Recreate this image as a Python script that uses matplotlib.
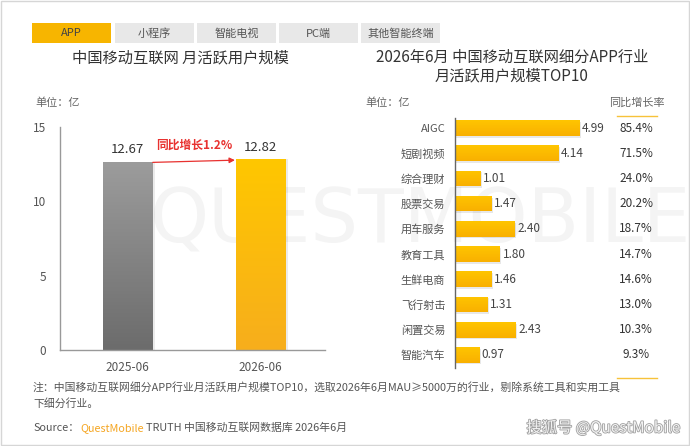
import numpy as np
import matplotlib
matplotlib.use("Agg")
import matplotlib.pyplot as plt
import matplotlib.patheffects as pe
from matplotlib.patches import Rectangle
from matplotlib.colors import LinearSegmentedColormap

plt.rcParams['font.family'] = ['Noto Sans CJK SC', 'DejaVu Sans']

# 데이터
tabs = ["APP", "小程序", "智能电视", "PC端", "其他智能终端"]
months = ["2025-06", "2026-06"]
mau_total = [12.67, 12.82]
growth_total = "同比增长1.2%"

industries = ["AIGC", "短剧视频", "综合理财", "股票交易", "用车服务",
              "教育工具", "生鲜电商", "飞行射击", "闲置交易", "智能汽车"]
industry_mau = [4.99, 4.14, 1.01, 1.47, 2.40, 1.80, 1.46, 1.31, 2.43, 0.97]
industry_yoy = [85.4, 71.5, 24.0, 20.2, 18.7, 14.7, 14.6, 13.0, 10.3, 9.3]

W, H = 690, 446
fig = plt.figure(figsize=(W / 100, H / 100), dpi=100)
fig.patch.set_facecolor("white")


def px(x, y):
    return x / W, 1 - y / H


def box(x0, y0, x1, y1):
    return [x0 / W, 1 - y1 / H, (x1 - x0) / W, (y1 - y0) / H]


# 테두리
fig.add_artist(Rectangle((0.001, 0.002), 0.997, 0.996, transform=fig.transFigure,
                         fill=False, edgecolor="#d6d6d6", lw=1))

# 워터마크 (축 뒤에)
fig.text(*px(420, 222), "QUESTMOBILE", fontsize=54, color="#f4f4f4",
         ha="center", va="center", family="DejaVu Sans", zorder=-5)

# 탭
tab_x = [32, 115, 197, 279, 361]
for i, (t, x0) in enumerate(zip(tabs, tab_x)):
    c = "#F7B500" if i == 0 else "#E8E8E8"
    fig.add_artist(Rectangle(px(x0, 43), 79 / W, 20 / H, transform=fig.transFigure,
                             facecolor=c, edgecolor="none"))
    fig.text(*px(x0 + 39.5, 33.5), t, fontsize=8, color="#555555" if i else "#444444",
             ha="center", va="center")

grad_yellow = LinearSegmentedColormap.from_list("y", ["#FFC700", "#F7AE1C"])
grad_gray = LinearSegmentedColormap.from_list("g", ["#9c9c9c", "#6c6c6c"])
grad_hbar = LinearSegmentedColormap.from_list("h", ["#FFC500", "#F9B000"])


def fill_gradient(ax, patch, cmap, vis_bottom, vis_top):
    # 막대 안을 위(밝음) → 아래(진함) 그라데이션으로 채움
    x0, w = patch.get_x(), patch.get_width()
    g = np.linspace(0, 1, 64).reshape(-1, 1)
    im = ax.imshow(g, cmap=cmap, aspect="auto", origin="upper",
                   extent=[x0, x0 + w, vis_bottom, vis_top], zorder=patch.get_zorder())
    im.set_clip_path(patch)


# ---------------- 왼쪽: 전체 MAU ----------------
fig.text(*px(180, 58), "中国移动互联网 月活跃用户规模", fontsize=11, color="#333333",
         ha="center", va="center")
fig.text(*px(35, 103), "单位：亿", fontsize=8, color="#666666", ha="left", va="center")

axl = fig.add_axes(box(60, 127, 325, 350))
xs = np.arange(len(months))
axl.bar(xs + 0.025, mau_total, width=0.37, color="#000000", alpha=0.08, zorder=1)
bars = axl.bar(xs, mau_total, width=0.37, color="none", zorder=2)
for b, cm, v in zip(bars, [grad_gray, grad_yellow], mau_total):
    fill_gradient(axl, b, cm, 0, v)
axl.set_xlim(-0.51, 1.49)
axl.set_ylim(0, 15)
for x, v in zip(xs, mau_total):
    axl.text(x, v + 0.35, f"{v:.2f}", ha="center", va="bottom", fontsize=9.5, color="#333333")
axl.annotate("", xy=(xs[1] - 0.19, mau_total[1] - 0.05), xytext=(xs[0] + 0.19, mau_total[0] - 0.05),
             arrowprops=dict(arrowstyle="-|>", color="#E8312F", lw=0.9, mutation_scale=8,
                             shrinkA=0, shrinkB=0))
axl.text(0.5, 13.75, growth_total, ha="center", va="center", fontsize=8.5, color="#E8312F",
         fontweight="bold")
axl.set_xticks(xs, months)
axl.set_yticks([0, 5, 10, 15])
axl.tick_params(axis="both", length=0, labelsize=8.5, colors="#555555")
axl.tick_params(axis="x", pad=8)
axl.tick_params(axis="y", pad=10)
for s in ["top", "right"]:
    axl.spines[s].set_visible(False)
for s in ["left", "bottom"]:
    axl.spines[s].set_color("#999999")
    axl.spines[s].set_linewidth(1)
axl.patch.set_alpha(0)

# ---------------- 오른쪽: 세부 업종 TOP10 ----------------
fig.text(*px(512, 57), "2026年6月 中国移动互联网细分APP行业", fontsize=11, color="#333333",
         ha="center", va="center")
fig.text(*px(512, 76), "月活跃用户规模TOP10", fontsize=11, color="#333333",
         ha="center", va="center")
fig.text(*px(365, 103), "单位：亿", fontsize=8, color="#666666", ha="left", va="center")
fig.text(*px(637, 103), "同比增长率", fontsize=8, color="#666666", ha="center", va="center")
for yy in [116, 378]:
    fig.add_artist(plt.Line2D([617 / W, 657 / W], [1 - yy / H] * 2, color="#F7C23A", lw=1))

axr = fig.add_axes(box(455, 118, 660, 368))
ys = np.arange(len(industries))
bh = 0.62
axr.barh(ys + 0.07, industry_mau, left=0.05, height=bh, color="#000000", alpha=0.09, zorder=1)
hb = axr.barh(ys, industry_mau, height=bh, color="none", zorder=2)
for b, y in zip(hb, ys):
    fill_gradient(axr, b, grad_hbar, y + bh / 2, y - bh / 2)
axr.set_xlim(0, 8.2)
axr.set_ylim(9.52, -0.4)
for y, v, g in zip(ys, industry_mau, industry_yoy):
    axr.text(v + 0.1, y, f"{v:.2f}", ha="left", va="center", fontsize=8.5, color="#444444")
    axr.text(7.25, y, f"{g:.1f}%", ha="center", va="center", fontsize=8.5, color="#333333")
axr.set_yticks(ys, industries)
axr.set_xticks([])
axr.tick_params(axis="y", length=0, labelsize=8, colors="#555555", pad=7)
for s in ["top", "right", "bottom"]:
    axr.spines[s].set_visible(False)
axr.spines["left"].set_color("#666666")
axr.spines["left"].set_linewidth(1)
axr.patch.set_alpha(0)

# ---------------- 하단 주석 ----------------
fig.text(*px(33, 387), "注：中国移动互联网细分APP行业月活跃用户规模TOP10，选取2026年6月MAU≥5000万的行业，剔除系统工具和实用工具",
         fontsize=7.8, color="#555555", ha="left", va="center")
fig.text(*px(33, 403), "下细分行业。", fontsize=7.8, color="#555555", ha="left", va="center")
fig.text(*px(33, 428), "Source：", fontsize=7.8, color="#555555", ha="left", va="center")
fig.text(*px(80, 428), "QuestMobile", fontsize=7.8, color="#F5A623", ha="left", va="center")
fig.text(*px(146, 428), "TRUTH 中国移动互联网数据库 2026年6月", fontsize=7.8, color="#555555",
         ha="left", va="center")
fig.text(*px(680, 428), "搜狐号 @QuestMobile", fontsize=11, color="#f2f2f2", ha="right", va="center",
         fontstyle="italic", path_effects=[pe.withStroke(linewidth=1.2, foreground="#a0a0a0")])

fig.savefig("out.png", dpi=100)
